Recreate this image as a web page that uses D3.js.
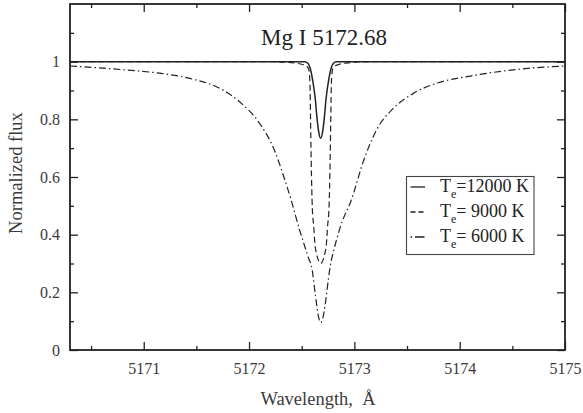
<!DOCTYPE html>
<html><head><meta charset="utf-8">
<script src="https://cdn.jsdelivr.net/npm/d3@7"></script>
<style>
svg text, svg tspan { font-family: "Liberation Serif", "Times New Roman", serif !important; }
</style>
</head>
<body style="margin:0">
<svg id="chart" width="583" height="413"></svg>
<script>
// ---- data ----
const title = "Mg I 5172.68";
const xMajorTicks = [5171, 5172, 5173, 5174, 5175];
const xMinorTicks = [5170.5, 5171.5, 5172.5, 5173.5, 5174.5];
const yMajorTicks = [0, 0.2, 0.4, 0.6, 0.8, 1.0];
const yMinorTicks = [0.1, 0.3, 0.5, 0.7, 0.9, 1.1];

const wl12000 = [5170.30, 5172.53, 5172.56, 5172.58, 5172.60, 5172.615, 5172.63, 5172.64, 5172.66, 5172.68, 5172.70, 5172.72, 5172.73, 5172.745, 5172.76, 5172.78, 5172.80, 5172.83, 5175.00];
const flux12000 = [1.0, 1.0, 0.994, 0.978, 0.945, 0.91, 0.867, 0.825, 0.76, 0.734, 0.76, 0.825, 0.867, 0.91, 0.945, 0.978, 0.994, 1.0, 1.0];

const wl9000 = [5170.30, 5172.20, 5172.35, 5172.44, 5172.51, 5172.545, 5172.565, 5172.575, 5172.58, 5172.584, 5172.59, 5172.601, 5172.614, 5172.625, 5172.64, 5172.66, 5172.68, 5172.70, 5172.72, 5172.735, 5172.746, 5172.759, 5172.77, 5172.776, 5172.78, 5172.785, 5172.795, 5172.815, 5172.85, 5172.92, 5173.01, 5173.20, 5175.00];
const flux9000 = [1.0, 1.0, 0.998, 0.995, 0.99, 0.985, 0.975, 0.95, 0.90, 0.80, 0.66, 0.49, 0.43, 0.37, 0.335, 0.31, 0.30, 0.31, 0.335, 0.37, 0.43, 0.49, 0.66, 0.80, 0.90, 0.95, 0.975, 0.985, 0.99, 0.995, 0.998, 1.0, 1.0];

const wl6000 = [5170.30, 5170.84, 5171.15, 5171.47, 5171.72, 5171.91, 5172.10, 5172.24, 5172.33, 5172.40, 5172.48, 5172.52, 5172.56, 5172.60, 5172.63, 5172.66, 5172.68, 5172.70, 5172.72, 5172.765, 5172.83, 5172.89, 5172.96, 5173.09, 5173.21, 5173.37, 5173.56, 5173.78, 5174.10, 5174.57, 5175.00];
const flux6000 = [0.985, 0.971, 0.960, 0.939, 0.908, 0.861, 0.786, 0.694, 0.601, 0.52, 0.416, 0.37, 0.324, 0.277, 0.19, 0.115, 0.095, 0.11, 0.15, 0.277, 0.381, 0.451, 0.509, 0.659, 0.763, 0.838, 0.890, 0.925, 0.950, 0.974, 0.985];

const seriesNames = ["12000 K", "9000 K", "6000 K"];
const seriesPrefix = ["=", "= ", "= "];

const FONT = '"Liberation Serif", "Times New Roman", serif';
const setFont = sel => sel.style("font-family", FONT, "important");

// ---- layout ----
const svg = d3.select("#chart");
const L = 70, R = 565, T = 4, B = 350;
const x = d3.scaleLinear().domain([5170.3, 5175]).range([L, R]);
const y = d3.scaleLinear().domain([0, 1.2]).range([B, T]);
const ink = "#222", labelInk = "#3a3a3a";

// curves
const line = d3.line().x(d => x(d[0])).y(d => y(d[1])).curve(d3.curveMonotoneX);
const series = [
  {wl: wl12000, f: flux12000, dash: null, w: 1.5},
  {wl: wl9000, f: flux9000, dash: "6,3.5", w: 1.2},
  {wl: wl6000, f: flux6000, dash: "7,3,1.5,3", w: 1.2}
];
svg.append("defs").append("clipPath").attr("id","clip")
  .append("rect").attr("x",L).attr("y",T).attr("width",R-L).attr("height",B-T);
const g = svg.append("g").attr("clip-path","url(#clip)");
series.forEach(s => {
  g.append("path").datum(s.wl.map((w,i)=>[w,s.f[i]]))
    .attr("d", line).attr("fill","none").attr("stroke", ink)
    .attr("stroke-width", s.w).attr("stroke-dasharray", s.dash);
});

// axes
function styleAxis(sel){
  sel.attr("font-family", FONT).call(setFont);
  sel.select(".domain").remove();
  sel.selectAll(".tick line").attr("stroke", ink).attr("stroke-width", 1.3);
  sel.selectAll(".tick text").attr("fill", labelInk).attr("font-size", 16).call(setFont);
}
svg.append("g").attr("transform",`translate(0,${B})`)
  .call(d3.axisBottom(x).tickValues(xMajorTicks).tickSize(-8).tickPadding(12.5).tickFormat(d3.format("d"))).call(styleAxis);
svg.append("g").attr("transform",`translate(0,${B})`)
  .call(d3.axisBottom(x).tickValues(xMinorTicks).tickSize(-4).tickFormat("")).call(styleAxis);
svg.append("g").attr("transform",`translate(0,${T})`)
  .call(d3.axisTop(x).tickValues(xMajorTicks).tickSize(-8).tickFormat("")).call(styleAxis);
svg.append("g").attr("transform",`translate(0,${T})`)
  .call(d3.axisTop(x).tickValues(xMinorTicks).tickSize(-4).tickFormat("")).call(styleAxis);
svg.append("g").attr("transform",`translate(${L},0)`)
  .call(d3.axisLeft(y).tickValues(yMajorTicks).tickSize(-8).tickPadding(10).tickFormat(d3.format("~g"))).call(styleAxis);
svg.append("g").attr("transform",`translate(${L},0)`)
  .call(d3.axisLeft(y).tickValues(yMinorTicks).tickSize(-4).tickFormat("")).call(styleAxis);
svg.append("g").attr("transform",`translate(${R},0)`)
  .call(d3.axisRight(y).tickValues(yMajorTicks).tickSize(-8).tickFormat("")).call(styleAxis);
svg.append("g").attr("transform",`translate(${R},0)`)
  .call(d3.axisRight(y).tickValues(yMinorTicks).tickSize(-4).tickFormat("")).call(styleAxis);

// frame
svg.append("rect").attr("x",L).attr("y",T).attr("width",R-L).attr("height",B-T)
  .attr("fill","none").attr("stroke",ink).attr("stroke-width",1.8);

// title
svg.append("text").attr("x",324).attr("y",45).attr("text-anchor","middle")
  .attr("font-size",23).attr("fill",ink).call(setFont).text(title);

// axis titles
svg.append("text").attr("x",318).attr("y",405).attr("text-anchor","middle")
  .attr("font-size",18.5).attr("fill",labelInk).style("white-space","pre").call(setFont).text("Wavelength,  Å");
svg.append("text").attr("transform","translate(22,173) rotate(-90)").attr("text-anchor","middle")
  .attr("font-size",18.5).attr("fill",labelInk).call(setFont).text("Normalized flux");

// legend
const lg = svg.append("g");
lg.append("rect").attr("x",406.5).attr("y",176.5).attr("width",127.5).attr("height",78)
  .attr("fill","#fff").attr("stroke","#444").attr("stroke-width",1.1);
const baselines = [192, 217, 242];
series.forEach((s,i) => {
  const by = baselines[i];
  lg.append("line").attr("x1",410.5).attr("x2",425).attr("y1",by-5).attr("y2",by-5)
    .attr("stroke",ink).attr("stroke-width",1.3).attr("stroke-dasharray", i===1 ? "5,3" : (i===2 ? "1.5,3,8,0" : null));
  const t = lg.append("text").attr("x",440).attr("y",by).attr("font-size",18).attr("fill",ink)
    .style("white-space","pre").call(setFont);
  t.append("tspan").text("T").call(setFont);
  t.append("tspan").attr("dy",6).attr("font-size",12).text("e").call(setFont);
  t.append("tspan").attr("dy",-6).text(seriesPrefix[i] + seriesNames[i]).call(setFont);
});
</script>
</body></html>
